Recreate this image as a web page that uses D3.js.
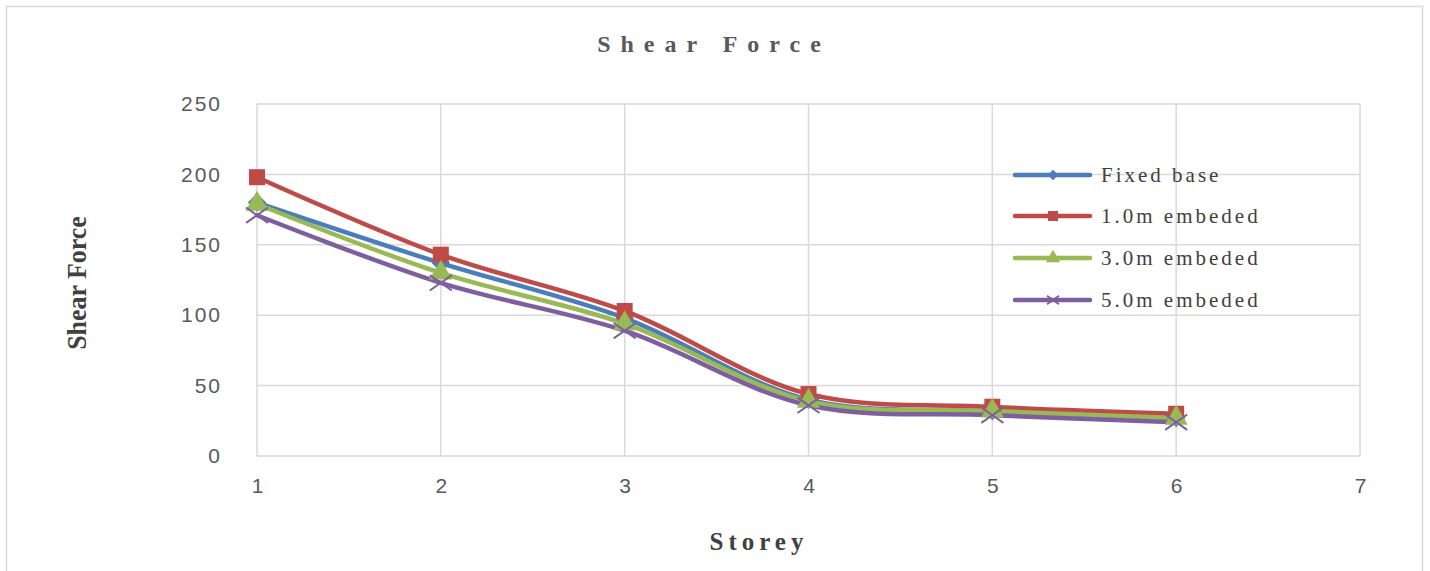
<!DOCTYPE html>
<html>
<head>
<meta charset="utf-8">
<script src="https://cdn.jsdelivr.net/npm/d3@7"></script>
<style>
  html, body { margin: 0; padding: 0; background: #fff; }
  svg { display: block; }
</style>
</head>
<body>
<svg id="chart" width="1430" height="571"></svg>
<script>
// Storey numbers (x) and shear force per series
const storeys = [1, 2, 3, 4, 5, 6];
const fixedBase = [180, 137, 98, 40, 32, 27];
const embed1 = [198, 143, 103, 44, 35, 30];
const embed3 = [179, 130, 94, 39, 32, 27];
const embed5 = [171, 123, 89, 36, 29, 24];

const seriesNames = ["Fixed base", "1.0m embeded", "3.0m embeded", "5.0m embeded"];
const seriesColors = ["#4a7ebb", "#be4b48", "#98b954", "#7d5fa0"];
const seriesMarkers = ["diamond", "square", "triangle", "cross"];
const seriesValues = [fixedBase, embed1, embed3, embed5];

const xTicks = [1, 2, 3, 4, 5, 6, 7];
const yTicks = [0, 50, 100, 150, 200, 250];

const svg = d3.select("#chart");

// outer chart frame
svg.append("rect")
  .attr("x", 6.5).attr("y", 6.5)
  .attr("width", 1416).attr("height", 580)
  .attr("fill", "#fff").attr("stroke", "#d9d9d9").attr("stroke-width", 1.5);

const plot = { left: 257, right: 1360, top: 104, bottom: 456 };

const x = d3.scaleLinear().domain([1, 7]).range([plot.left, plot.right]);
const y = d3.scaleLinear().domain([0, 250]).range([plot.bottom, plot.top]);

// gridlines
const g = svg.append("g");
g.selectAll("line.h").data(yTicks).enter().append("line")
  .attr("x1", plot.left).attr("x2", plot.right)
  .attr("y1", d => y(d)).attr("y2", d => y(d))
  .attr("stroke", "#d9d9d9").attr("stroke-width", 1.5);
g.selectAll("line.v").data(xTicks).enter().append("line")
  .attr("y1", plot.top).attr("y2", plot.bottom)
  .attr("x1", d => x(d)).attr("x2", d => x(d))
  .attr("stroke", "#d9d9d9").attr("stroke-width", 1.5);

// tick labels via d3 axes
const yAxis = d3.axisLeft(y).tickValues(yTicks).tickSize(0).tickPadding(35);
const yG = svg.append("g").attr("transform", `translate(${plot.left},0)`).call(yAxis);
yG.select(".domain").remove();
yG.selectAll("text")
  .attr("font-family", "'Liberation Sans', Arial, sans-serif")
  .attr("font-size", 21).attr("fill", "#595959").attr("letter-spacing", "2px");

const xAxis = d3.axisBottom(x).tickValues(xTicks).tickFormat(d3.format("d")).tickSize(0).tickPadding(22);
const xG = svg.append("g").attr("transform", `translate(0,${plot.bottom})`).call(xAxis);
xG.select(".domain").remove();
xG.selectAll("text")
  .attr("font-family", "'Liberation Sans', Arial, sans-serif")
  .attr("font-size", 21).attr("fill", "#595959");

// titles
svg.append("text")
  .attr("x", 714).attr("y", 52)
  .attr("text-anchor", "middle")
  .attr("font-family", "'Liberation Serif', 'Times New Roman', serif")
  .attr("font-weight", "bold").attr("font-size", 24)
  .attr("letter-spacing", "10px").attr("fill", "#595959")
  .text("Shear Force");

svg.append("text")
  .attr("x", 759).attr("y", 550)
  .attr("text-anchor", "middle")
  .attr("font-family", "'Liberation Serif', 'Times New Roman', serif")
  .attr("font-weight", "bold").attr("font-size", 25)
  .attr("letter-spacing", "5px").attr("fill", "#404040")
  .text("Storey");

svg.append("text")
  .attr("transform", "translate(86,283) rotate(-90) scale(1.08,1.1)")
  .attr("text-anchor", "middle")
  .attr("font-family", "'Liberation Serif', 'Times New Roman', serif")
  .attr("font-weight", "bold").attr("font-size", 24)
  .attr("fill", "#404040")
  .text("Shear Force");

// marker drawing
function drawMarker(sel, type, color, size) {
  if (type === "diamond") {
    sel.append("path")
      .attr("d", d3.symbol().type(d3.symbolDiamond2).size(size * size * 1.1)())
      .attr("fill", color);
  } else if (type === "square") {
    sel.append("rect")
      .attr("x", -size / 2).attr("y", -size / 2)
      .attr("width", size).attr("height", size).attr("fill", color);
  } else if (type === "triangle") {
    sel.append("path")
      .attr("d", d3.symbol().type(d3.symbolTriangle).size(size * size * 0.9)())
      .attr("fill", color);
  } else if (type === "cross") {
    const s = size / 2;
    sel.append("path")
      .attr("d", `M${-s},${-s * 0.7}L${s},${s * 0.7}M${-s},${s * 0.7}L${s},${-s * 0.7}`)
      .attr("stroke", color).attr("stroke-width", 2).attr("fill", "none");
  }
}

const line = d3.line()
  .x((d, i) => x(storeys[i]))
  .y(d => y(d))
  .curve(d3.curveCatmullRom.alpha(0.5));

const markerSize = [14, 16, 16, 22];

seriesValues.forEach((vals, si) => {
  svg.append("path")
    .datum(vals)
    .attr("d", line)
    .attr("fill", "none")
    .attr("stroke", seriesColors[si])
    .attr("stroke-width", 4.5)
    .attr("stroke-linejoin", "round")
    .attr("stroke-linecap", "round");
});
seriesValues.forEach((vals, si) => {
  vals.forEach((v, i) => {
    const m = svg.append("g").attr("transform", `translate(${x(storeys[i])},${y(v)})`);
    drawMarker(m, seriesMarkers[si], seriesColors[si], markerSize[si]);
  });
});

// legend
const legendY = [175, 216, 258, 300];
seriesNames.forEach((name, si) => {
  const lg = svg.append("g").attr("transform", `translate(1015,${legendY[si]})`);
  lg.append("line")
    .attr("x1", 0).attr("x2", 75).attr("y1", 0).attr("y2", 0)
    .attr("stroke", seriesColors[si]).attr("stroke-width", 4.5)
    .attr("stroke-linecap", "round");
  const mg = lg.append("g").attr("transform", "translate(38,0)");
  drawMarker(mg, seriesMarkers[si], seriesColors[si], [8, 10, 10, 12][si]);
  lg.append("text")
    .attr("x", 86).attr("y", 7)
    .attr("font-family", "'Liberation Serif', 'Times New Roman', serif")
    .attr("font-size", 21).attr("letter-spacing", "3px")
    .attr("fill", "#404040")
    .text(name);
});
</script>
</body>
</html>
